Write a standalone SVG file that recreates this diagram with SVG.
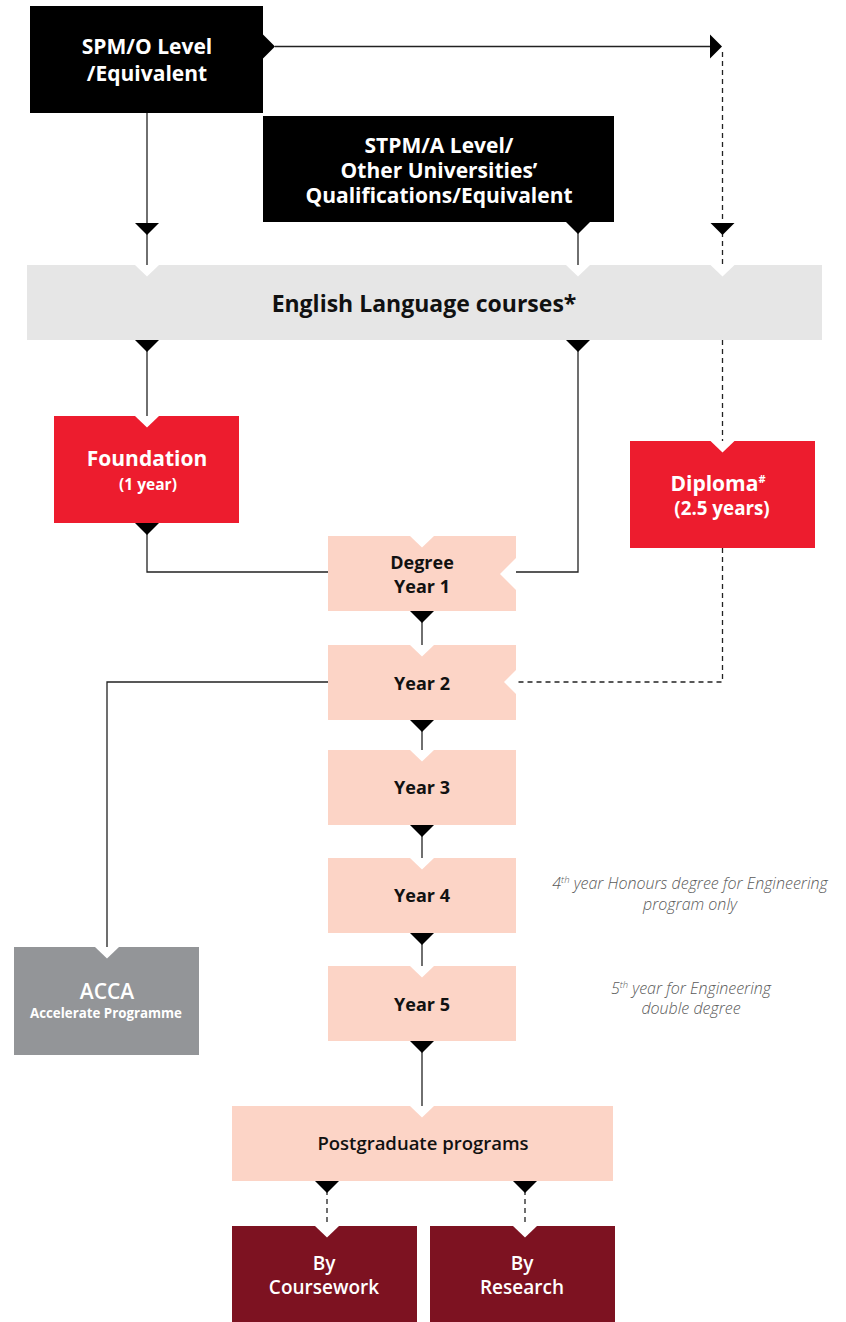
<svg xmlns="http://www.w3.org/2000/svg" width="846" height="1322" viewBox="0 0 846 1322">
<style>
.t{font-family:"Open Sans","Noto Sans","Liberation Sans",sans-serif;text-anchor:middle}
.b{font-weight:700}
.w{fill:#fff}
.k{fill:#111}
.ln{fill:none;stroke:#222;stroke-width:1.3}
.ds{fill:none;stroke:#222;stroke-width:1.3;stroke-dasharray:5 4}
.note{font-family:"Open Sans","Noto Sans","Liberation Sans",sans-serif;font-style:italic;font-weight:300;font-size:16px;fill:#5a5a5a;text-anchor:middle}
</style>
<defs>
<path id="tri" d="M-12,0 L12,0 L0,12 Z" fill="#000"/>
<path id="notch" d="M-12,0 L12,0 L0,11.5 Z" fill="#fff"/>
</defs>
<rect width="846" height="1322" fill="#fff"/>

<g id="connectors">
<path class="ln" d="M275,46.5 H711"/>
<use href="#tri" transform="translate(710,46.5) rotate(-90)"/>
<path class="ds" d="M722.5,52 V265"/>
<use href="#tri" transform="translate(722.5,223)"/>
<path class="ln" d="M147,113 V265"/>
<use href="#tri" transform="translate(147,223)"/>
<path class="ln" d="M578,222 V265"/>
<path class="ln" d="M147,340 V416"/>
<path class="ln" d="M578,340 V572 H516"/>
<path class="ds" d="M722.5,340 V441"/>
<path class="ln" d="M147,523 V572 H328"/>
<path class="ds" d="M722.5,548 V682 H516"/>
<path class="ln" d="M328,682 H107 V947"/>
<path class="ln" d="M422,611 V645"/>
<path class="ln" d="M422,720 V750"/>
<path class="ln" d="M422,825 V858"/>
<path class="ln" d="M422,933 V966"/>
<path class="ln" d="M422,1041 V1106"/>
<path class="ds" d="M327,1181 V1226"/>
<path class="ds" d="M525,1181 V1226"/>
</g>

<g id="spm">
<rect x="30" y="6" width="233" height="107" fill="#000"/>
<use href="#tri" transform="translate(263,46.5) rotate(-90)"/>
<text class="t b w" font-size="21" x="147" y="54">SPM/O Level</text>
<text class="t b w" font-size="21" x="147" y="81">/Equivalent</text>
</g>

<g id="stpm">
<rect x="263" y="116" width="351" height="106" fill="#000"/>
<use href="#tri" transform="translate(578,222)"/>
<text class="t b w" font-size="21" x="439" y="153">STPM/A Level/</text>
<text class="t b w" font-size="21" x="439" y="178">Other Universities’</text>
<text class="t b w" font-size="21" x="439" y="203">Qualifications/Equivalent</text>
</g>

<g id="english">
<rect x="27" y="265" width="795" height="75" fill="#e6e6e6"/>
<use href="#notch" transform="translate(147,265)"/>
<use href="#notch" transform="translate(578,265)"/>
<use href="#notch" transform="translate(722.5,265)"/>
<use href="#tri" transform="translate(147,340)"/>
<use href="#tri" transform="translate(578,340)"/>
<text class="t b k" font-size="23" x="424" y="312">English Language courses*</text>
</g>

<g id="foundation">
<rect x="54" y="416" width="185" height="107" fill="#ed1c2e"/>
<use href="#notch" transform="translate(147,416)"/>
<use href="#tri" transform="translate(147,523)"/>
<text class="t b w" font-size="21" x="147" y="466">Foundation</text>
<text class="t b w" font-size="15.5" x="148" y="490">(1 year)</text>
</g>

<g id="diploma">
<rect x="630" y="441" width="185" height="107" fill="#ed1c2e"/>
<use href="#notch" transform="translate(722.5,441)"/>
<text class="t b w" font-size="21" x="718" y="491">Diploma<tspan font-size="11" dy="-8">#</tspan></text>
<text class="t b w" font-size="18.8" x="722" y="515">(2.5 years)</text>
</g>

<g id="year1">
<rect x="328" y="536" width="188" height="75" fill="#fcd4c6"/>
<use href="#notch" transform="translate(422,536)"/>
<path d="M516,558 L516,590 L500,574 Z" fill="#fff"/>
<use href="#tri" transform="translate(422,611)"/>
<text class="t b k" font-size="18" x="422" y="569">Degree</text>
<text class="t b k" font-size="18" x="422" y="593">Year 1</text>
</g>

<g id="year2">
<rect x="328" y="645" width="188" height="75" fill="#fcd4c6"/>
<use href="#notch" transform="translate(422,645)"/>
<path d="M516,670 L516,694 L504,682 Z" fill="#fff"/>
<use href="#tri" transform="translate(422,720)"/>
<text class="t b k" font-size="18" x="422" y="690">Year 2</text>
</g>

<g id="year3">
<rect x="328" y="750" width="188" height="75" fill="#fcd4c6"/>
<use href="#notch" transform="translate(422,750)"/>
<use href="#tri" transform="translate(422,825)"/>
<text class="t b k" font-size="18" x="422" y="794">Year 3</text>
</g>

<g id="year4">
<rect x="328" y="858" width="188" height="75" fill="#fcd4c6"/>
<use href="#notch" transform="translate(422,858)"/>
<use href="#tri" transform="translate(422,933)"/>
<text class="t b k" font-size="18" x="422" y="902">Year 4</text>
</g>

<g id="year5">
<rect x="328" y="966" width="188" height="75" fill="#fcd4c6"/>
<use href="#notch" transform="translate(422,966)"/>
<use href="#tri" transform="translate(422,1041)"/>
<text class="t b k" font-size="18" x="422" y="1011">Year 5</text>
</g>

<g id="notes">
<text class="note" x="690" y="889">4<tspan font-size="9.5" dy="-6">th</tspan><tspan dy="6"> year Honours degree for Engineering</tspan></text>
<text class="note" x="690" y="910">program only</text>
<text class="note" x="691" y="994">5<tspan font-size="9.5" dy="-6">th</tspan><tspan dy="6"> year for Engineering</tspan></text>
<text class="note" x="691" y="1014">double degree</text>
</g>

<g id="acca">
<rect x="14" y="947" width="185" height="108" fill="#939598"/>
<use href="#notch" transform="translate(107,947)"/>
<text class="t w" font-size="21" font-weight="600" x="107" y="999">ACCA</text>
<text class="t b w" font-size="13.3" x="106" y="1018">Accelerate Programme</text>
</g>

<g id="postgrad">
<rect x="232" y="1106" width="381" height="75" fill="#fcd4c6"/>
<use href="#notch" transform="translate(422,1106)"/>
<use href="#tri" transform="translate(327,1181)"/>
<use href="#tri" transform="translate(525,1181)"/>
<text class="t k" font-size="18.5" font-weight="600" x="423" y="1150">Postgraduate programs</text>
</g>

<g id="coursework">
<rect x="232" y="1226" width="185" height="96" fill="#7d1221"/>
<use href="#notch" transform="translate(327,1226)"/>
<text class="t w" font-size="19" font-weight="600" x="324" y="1270">By</text>
<text class="t w" font-size="19" font-weight="600" x="324" y="1294">Coursework</text>
</g>

<g id="research">
<rect x="430" y="1226" width="185" height="96" fill="#7d1221"/>
<use href="#notch" transform="translate(525,1226)"/>
<text class="t w" font-size="19" font-weight="600" x="522" y="1270">By</text>
<text class="t w" font-size="19" font-weight="600" x="522" y="1294">Research</text>
</g>
</svg>
